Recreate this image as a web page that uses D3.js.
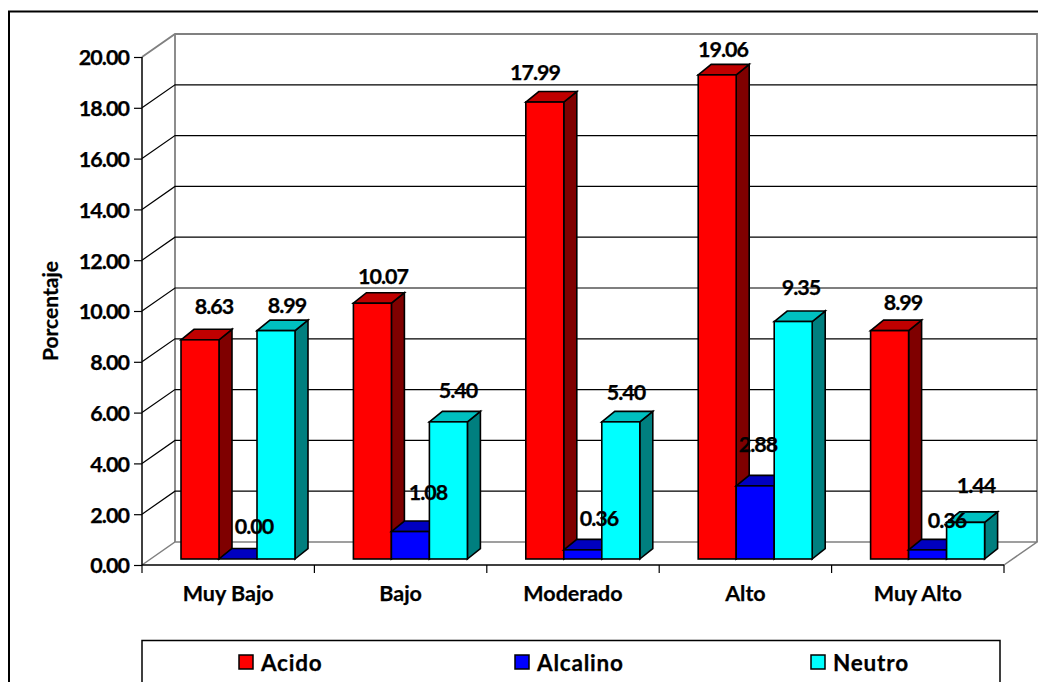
<!DOCTYPE html>
<html>
<head>
<meta charset="utf-8">
<script src="https://cdn.jsdelivr.net/npm/d3@7/dist/d3.min.js"></script>
<style>
  html, body { margin: 0; padding: 0; background: #fff; overflow: hidden; }
  svg { display: block; }
  text { font-family: Lato, "Open Sans", sans-serif; font-weight: 700; fill: #000; stroke: #000; stroke-width: 0.25px; }
</style>
</head>
<body>
<svg id="chart" width="1038" height="682"></svg>
<script>
// Soil-test percentages by class and reaction
const categories = ["Muy Bajo", "Bajo", "Moderado", "Alto", "Muy Alto"];
const seriesNames = ["Acido", "Alcalino", "Neutro"];
const acido = [8.63, 10.07, 17.99, 19.06, 8.99];
const alcalino = [0.00, 1.08, 0.36, 2.88, 0.36];
const neutro = [8.99, 5.40, 5.40, 9.35, 1.44];
const yTicks = [0, 2, 4, 6, 8, 10, 12, 14, 16, 18, 20];
const seriesValues = [acido, alcalino, neutro];

// Shades for each series: front, top and side faces
const faceColors = [
  { front: "#ff0000", top: "#c00000", side: "#7f0000" },
  { front: "#0000ff", top: "#0000c0", side: "#00007f" },
  { front: "#00ffff", top: "#00c0c0", side: "#007f7f" }
];

// Hand-placed label offsets from the centre of each bar's top edge
const labelDx = [
  [14, 10.6, -9.8, 5.8, 13.4],
  [16, 17.6, 16.2, 2.8, 19.4],
  [11, 9.6, 5.2, 7.8, 10.4]
];
const labelDy = [
  [-33, -27, -30, -25, -28],
  [-33, -39, -31, -41, -29],
  [-25, -31, -29, -34.5, -37]
];

// Oblique projection of the chart box
const wallDx = 33, wallDy = -23;
const barDepthX = 13, barDepthY = -10.5;
const floorInsetY = -6;
const numberSize = 21.5, numberSpacing = -0.95;

const svg = d3.select("#chart");

const x = d3.scaleBand().domain(categories).range([142, 1004]);
const inner = d3.scaleBand().domain(seriesNames).range([39, 153]);
const y = d3.scaleLinear().domain([0, 20]).range([565, 57]);

// Outer frame, open on the right and bottom because the page crops it
svg.append("path")
  .attr("d", "M9,682V11.5H1038")
  .attr("fill", "none").attr("stroke", "#000").attr("stroke-width", 2);

// Back wall and floor edges
const x0 = x.range()[0], x1 = x.range()[1];
const gray = "#808080";
svg.append("path")
  .attr("d", `M${x0},${y(20)}L${x0 + wallDx},${y(20) + wallDy}H${x1 + wallDx}V${y(0) + wallDy}`)
  .attr("fill", "none").attr("stroke", gray).attr("stroke-width", 1.8);
svg.append("line")
  .attr("x1", x0 + wallDx).attr("x2", x0 + wallDx)
  .attr("y1", y(20) + wallDy).attr("y2", y(0) + wallDy)
  .attr("stroke", gray).attr("stroke-width", 1.8);
svg.append("path")
  .attr("d", `M${x0},${y(0)}L${x0 + wallDx},${y(0) + wallDy}H${x1 + wallDx}L${x1},${y(0)}`)
  .attr("fill", "none").attr("stroke", gray).attr("stroke-width", 1.5);

// Gridlines: along the back wall and slanting down to the value axis
const gridValues = yTicks.filter(v => v > 0 && v < 20);
svg.append("g").selectAll("path").data(gridValues).join("path")
  .attr("d", v => `M${x0},${y(v)}L${x0 + wallDx},${y(v) + wallDy}H${x1 + wallDx}`)
  .attr("fill", "none").attr("stroke", "#000").attr("stroke-width", 1.2);

// Value axis
const yAxis = svg.append("g")
  .attr("transform", `translate(${x0},0)`)
  .call(d3.axisLeft(y).tickValues(yTicks).tickFormat(d3.format(".2f")).tickSize(8).tickPadding(5));
yAxis.select(".domain").attr("stroke", "#000").attr("stroke-width", 1.5).attr("d", `M0,${y(20)}V${y(0)}`);
yAxis.selectAll(".tick line").attr("stroke", "#000").attr("stroke-width", 1.2);
yAxis.attr("font-family", null).attr("font-size", null);
yAxis.selectAll(".tick text")
  .attr("font-size", numberSize).attr("letter-spacing", numberSpacing).attr("y", 1);

// Category axis: ticks on the class boundaries, labels centred between them
const xAxis = svg.append("g")
  .attr("transform", `translate(0,${y(0)})`)
  .call(d3.axisBottom(x).tickSize(0).tickPadding(21));
xAxis.select(".domain").attr("stroke", "#000").attr("stroke-width", 1.5).attr("d", `M${x0},0H${x1}`);
xAxis.attr("font-family", null).attr("font-size", null);
xAxis.selectAll(".tick text").attr("font-size", 21.5);
const boundaries = categories.map(c => x(c)).concat([x1]);
xAxis.append("g").selectAll("line").data(boundaries).join("line")
  .attr("x1", d => d).attr("x2", d => d).attr("y1", 0).attr("y2", 8)
  .attr("stroke", "#000").attr("stroke-width", 1.2);

// Bars, painted left to right so nearer faces cover their neighbours' sides
const bars = svg.append("g").attr("stroke", "#000").attr("stroke-width", 1.6).attr("stroke-linejoin", "miter");
categories.forEach((cat, ci) => {
  seriesNames.forEach((name, si) => {
    const v = seriesValues[si][ci];
    const left = x(cat) + inner(name);
    const right = left + inner.bandwidth();
    const base = y(0) + floorInsetY;
    const top = y(v) + floorInsetY;
    const c = faceColors[si];
    bars.append("path").attr("fill", c.side)
      .attr("d", `M${right},${base}L${right + barDepthX},${base + barDepthY}V${top + barDepthY}L${right},${top}Z`);
    bars.append("path").attr("fill", c.top)
      .attr("d", `M${left},${top}L${left + barDepthX},${top + barDepthY}H${right + barDepthX}L${right},${top}Z`);
    bars.append("rect").attr("fill", c.front)
      .attr("x", left).attr("y", top).attr("width", right - left).attr("height", base - top);
  });
});

// Value labels, drawn over every bar
const labels = svg.append("g")
  .attr("font-size", numberSize).attr("letter-spacing", numberSpacing).attr("text-anchor", "middle");
categories.forEach((cat, ci) => {
  seriesNames.forEach((name, si) => {
    const v = seriesValues[si][ci];
    labels.append("text")
      .attr("x", x(cat) + inner(name) + inner.bandwidth() / 2 + labelDx[si][ci])
      .attr("y", y(v) + floorInsetY + labelDy[si][ci])
      .attr("dy", "0.35em")
      .text(d3.format(".2f")(v));
  });
});

// Value axis title
svg.append("text")
  .attr("transform", "translate(58,311) rotate(-90)")
  .attr("text-anchor", "middle")
  .attr("font-size", 21)
  .text("Porcentaje");

// Legend box, cropped by the bottom of the page
svg.append("path")
  .attr("d", "M142,682V640.5H1000V682")
  .attr("fill", "#fff").attr("stroke", "#000").attr("stroke-width", 1.5);
const legendX = d3.scaleOrdinal().domain(seriesNames).range([239, 515, 811]);
const legendItems = svg.append("g").selectAll("g").data(seriesNames).join("g")
  .attr("transform", d => `translate(${legendX(d)},655)`);
legendItems.append("rect")
  .attr("width", 14).attr("height", 14)
  .attr("fill", (d, i) => faceColors[i].front)
  .attr("stroke", "#000").attr("stroke-width", 1.5);
legendItems.append("text")
  .attr("x", 22).attr("y", 8).attr("dy", "0.36em")
  .attr("font-size", 22.5).attr("letter-spacing", 0.8)
  .text(d => d);
</script>
</body>
</html>
